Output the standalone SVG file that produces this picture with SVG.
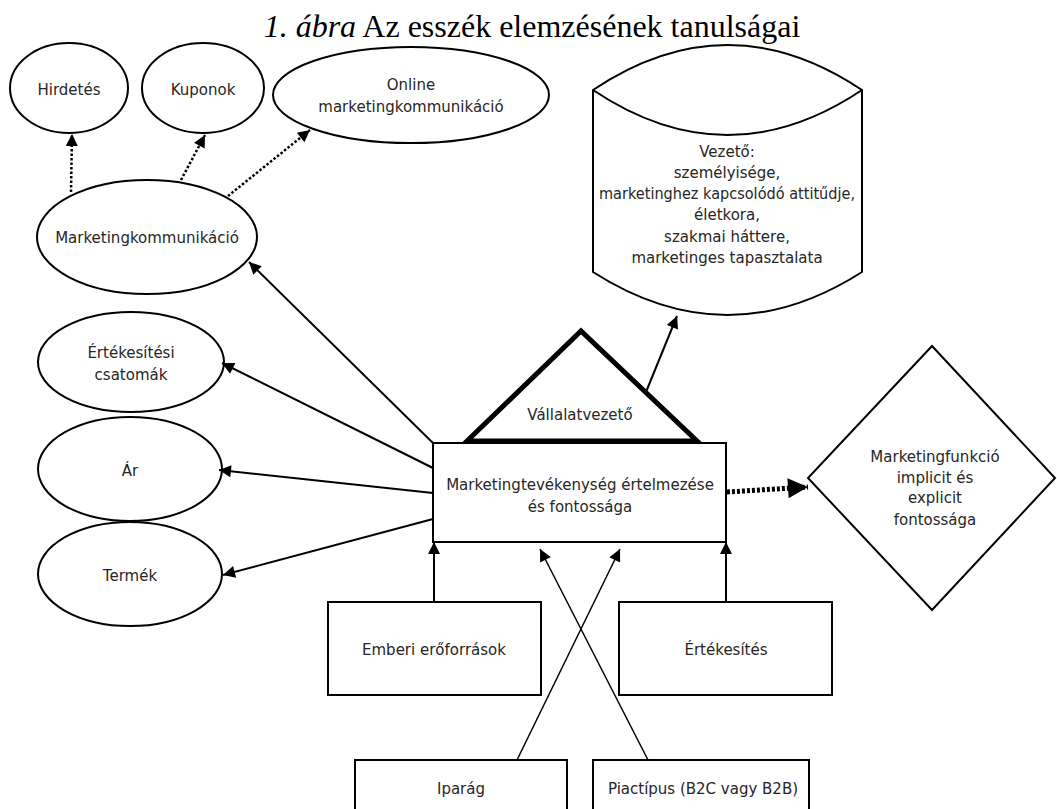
<svg xmlns="http://www.w3.org/2000/svg" width="1057" height="809" viewBox="0 0 1057 809">
<style>
.sh{fill:#fff;stroke:#000;stroke-width:2}
.thick{fill:#fff;stroke:#000;stroke-width:5;stroke-linejoin:miter}
.t{font-family:"DejaVu Sans",Verdana,sans-serif;font-size:15px;fill:#262626;text-anchor:middle;dominant-baseline:central}
.title{font-family:"Liberation Serif","Times New Roman",serif;font-size:32px;fill:#000;text-anchor:middle}
.c{fill:none;stroke:#000;stroke-width:2}
.thin{fill:none;stroke:#000;stroke-width:1.5}
.dot{fill:none;stroke:#000;stroke-width:2.5;stroke-dasharray:2.5 2}
.bigdot{fill:none;stroke:#000;stroke-width:5;stroke-dasharray:3 2}
</style>
<defs>
<marker id="ah" viewBox="0 0 10 10" refX="10" refY="5" markerWidth="14" markerHeight="12" markerUnits="userSpaceOnUse" orient="auto"><path d="M0,0 L10,5 L0,10 z" fill="#000"/></marker>
<marker id="ahb" viewBox="0 0 10 10" refX="10" refY="5" markerWidth="22" markerHeight="20" markerUnits="userSpaceOnUse" orient="auto"><path d="M0,0 L10,5 L0,10 z" fill="#000"/></marker>
</defs>
<rect width="1057" height="809" fill="#fff"/>
<text class="title" x="532" y="37"><tspan font-style="italic">1. ábra</tspan> Az esszék elemzésének tanulságai</text>

<g id="hirdetes"><ellipse class="sh" cx="69" cy="88" rx="59" ry="45"/><text class="t" x="69" y="90">Hirdetés</text></g>
<g id="kuponok"><ellipse class="sh" cx="203" cy="88" rx="61" ry="45"/><text class="t" x="203" y="90">Kuponok</text></g>
<g id="online"><ellipse class="sh" cx="411" cy="95" rx="138" ry="48"/><text class="t" x="411" y="85">Online</text><text class="t" x="411" y="107">marketingkommunikáció</text></g>
<g id="vezeto">
<path class="sh" d="M593,90 Q727.5,0 862,90 L862,272 Q727.5,358 593,272 Z"/>
<path class="c" d="M593,90 Q727.5,180 862,90"/>
<text class="t" x="727" y="152">Vezető:</text>
<text class="t" x="727" y="173">személyisége,</text>
<text class="t" x="727" y="194" textLength="256" lengthAdjust="spacingAndGlyphs">marketinghez kapcsolódó attitűdje,</text>
<text class="t" x="727" y="215">életkora,</text>
<text class="t" x="727" y="237">szakmai háttere,</text>
<text class="t" x="727" y="258">marketinges tapasztalata</text>
</g>
<g id="marketingkommunikacio"><ellipse class="sh" cx="147" cy="237" rx="110" ry="57"/><text class="t" x="147" y="238">Marketingkommunikáció</text></g>
<g id="ertekesitesi-csatornak"><ellipse class="sh" cx="131" cy="362" rx="93" ry="50"/><text class="t" x="131" y="353">Értékesítési</text><text class="t" x="131" y="375">csatomák</text></g>
<g id="ar"><ellipse class="sh" cx="130" cy="469" rx="92" ry="52"/><text class="t" x="130" y="471">Ár</text></g>
<g id="termek"><ellipse class="sh" cx="130" cy="574" rx="92" ry="52"/><text class="t" x="130" y="576">Termék</text></g>
<g id="vallalatvezeto"><polygon class="thick" points="467,441 581,331 697,441"/><text class="t" x="580" y="415">Vállalatvezető</text></g>
<g id="marketingtevekenyseg"><rect class="sh" x="433" y="443" width="293" height="99"/><text class="t" x="580" y="485">Marketingtevékenység értelmezése</text><text class="t" x="580" y="507">és fontossága</text></g>
<g id="marketingfunkcio"><polygon class="sh" points="932,346 1055,478 932,610 808,478"/>
<text class="t" x="935" y="457">Marketingfunkció</text><text class="t" x="935" y="478">implicit és</text><text class="t" x="935" y="498">explicit</text><text class="t" x="935" y="520">fontossága</text></g>
<g id="emberi"><rect class="sh" x="328" y="602" width="213" height="93"/><text class="t" x="434" y="650">Emberi erőforrások</text></g>
<g id="ertekesites"><rect class="sh" x="619" y="602" width="213" height="93"/><text class="t" x="726" y="650">Értékesítés</text></g>
<g id="iparag"><rect class="sh" x="355" y="760" width="212" height="60"/><text class="t" x="461" y="789">Iparág</text></g>
<g id="piactipus"><rect class="sh" x="593" y="760" width="216" height="60"/><text class="t" x="703" y="789">Piactípus (B2C vagy B2B)</text></g>

<g id="connectors">
<line class="dot" x1="71" y1="192" x2="72" y2="134" marker-end="url(#ah)"/>
<line class="dot" x1="181" y1="180" x2="205" y2="135" marker-end="url(#ah)"/>
<line class="dot" x1="228" y1="196" x2="310" y2="130" marker-end="url(#ah)"/>
<line class="c" x1="433" y1="443" x2="249" y2="262" marker-end="url(#ah)"/>
<line class="c" x1="433" y1="468" x2="222" y2="363" marker-end="url(#ah)"/>
<line class="c" x1="433" y1="493" x2="219" y2="470" marker-end="url(#ah)"/>
<line class="c" x1="433" y1="519" x2="223" y2="575" marker-end="url(#ah)"/>
<line class="c" x1="646" y1="392" x2="677" y2="316" marker-end="url(#ah)"/>
<line class="bigdot" x1="727" y1="492" x2="808" y2="487" marker-end="url(#ahb)"/>
<line class="c" x1="434" y1="602" x2="434" y2="542" marker-end="url(#ah)"/>
<line class="c" x1="726" y1="602" x2="726" y2="542" marker-end="url(#ah)"/>
<line class="thin" x1="517" y1="760" x2="620" y2="549" marker-end="url(#ah)"/>
<line class="thin" x1="648" y1="760" x2="540" y2="549" marker-end="url(#ah)"/>
</g>
</svg>
